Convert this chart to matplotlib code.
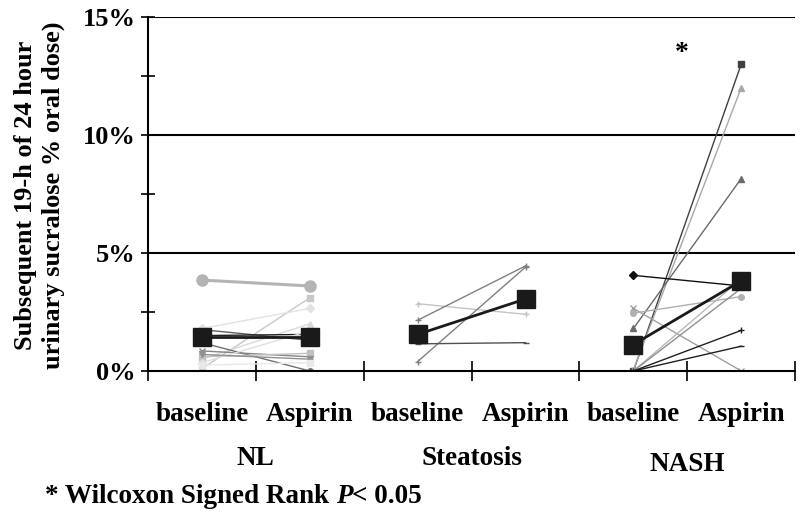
import matplotlib
matplotlib.use('Agg')
import matplotlib.pyplot as plt
from matplotlib.ticker import MultipleLocator, FuncFormatter

plt.rcParams['font.family'] = ['Liberation Serif', 'DejaVu Serif']
plt.rcParams['font.weight'] = 'bold'

# category labels and groups
cat_labels = ['baseline', 'Aspirin', 'baseline', 'Aspirin', 'baseline', 'Aspirin']
groups = ['NL', 'Steatosis', 'NASH']

# individual subjects: (baseline %, aspirin %) per group
nl_base = [3.85, 0.1, 1.8, 0.5, 1.75, 1.5, 1.2, 0.85, 0.6, 0.35, 0.7, 0.25]
nl_asp = [3.6, 3.1, 2.65, 2.0, 1.3, 1.55, 0.0, 0.6, 0.75, 1.7, 0.5, 0.35]
nl_col = ['#b4b4b4', '#c8c8c8', '#e2e2e2', '#dadada', '#606060', '#202020',
          '#707070', '#858585', '#c0c0c0', '#e0e0e0', '#909090', '#e8e8e8']
nl_mark = ['o', 's', 'D', '^', '_', '_', 'o', 'x', 's', 'D', 'v', 's']

st_base = [2.85, 2.15, 0.4, 1.15]
st_asp = [2.4, 4.45, 4.4, 1.2]
st_col = ['#c4c4c4', '#808080', '#808080', '#505050']
st_mark = ['+', '+', '+', '_']

na_base = [0.0, 0.05, 1.8, 4.05, 2.65, 2.45, 0.0, 0.0, 0.0, 0.0]
na_asp = [13.0, 12.0, 8.15, 3.6, 0.0, 3.15, 3.9, 3.5, 1.72, 1.05]
na_col = ['#404040', '#a8a8a8', '#6a6a6a', '#101010', '#a0a0a0', '#b0b0b0',
          '#b8b8b8', '#909090', '#202020', '#202020']
na_mark = ['s', '^', '^', 'D', 'x', 'o', '_', '_', '+', '_']

# group means
mean_base = [1.45, 1.55, 1.12]
mean_asp = [1.45, 3.05, 3.82]

fig = plt.figure(figsize=(8, 5.24), dpi=100)
ax = fig.add_axes([0.185, 0.292, 0.809, 0.676])

subjects = [(nl_base, nl_asp, nl_col, nl_mark),
            (st_base, st_asp, st_col, st_mark),
            (na_base, na_asp, na_col, na_mark)]
for g, (b, a, cols, marks) in enumerate(subjects):
    x0, x1 = 2 * g, 2 * g + 1
    for bv, av, c, m in zip(b, a, cols, marks):
        big = (g == 0 and m == 'o' and bv > 3)
        ax.plot([x0, x1], [bv, av], color=c, lw=2.2 if big else 1.0,
                marker=m, ms=8 if big else 4, mew=1.0, zorder=2)
    ax.plot([x0, x1], [mean_base[g], mean_asp[g]], color='#1a1a1a', lw=2,
            marker='s', ms=13, zorder=3)

ax.set_xlim(-0.5, 5.5)
ax.set_ylim(0, 15)
for y in [5, 10, 15]:
    ax.axhline(y, color='black', lw=1.5, zorder=1)

ax.spines['top'].set_visible(False)
ax.spines['right'].set_visible(False)
ax.spines['left'].set_linewidth(1.5)
ax.spines['bottom'].set_linewidth(1.5)

ax.yaxis.set_major_locator(MultipleLocator(5))
ax.yaxis.set_minor_locator(MultipleLocator(2.5))
ax.yaxis.set_major_formatter(FuncFormatter(lambda v, p: f'{int(v)}%'))
ax.tick_params(axis='y', which='both', direction='inout', length=10, width=1.2,
               labelsize=19, pad=4)
ax.set_xticks([i - 0.5 for i in range(7)])
ax.set_xticklabels([])
ax.tick_params(axis='x', direction='inout', length=14, width=1.2)

for i, lab in enumerate(cat_labels):
    ax.text(i, -1.86, lab, ha='center', va='center', fontsize=19.5,
            fontweight='bold', clip_on=False)
for g, lab in enumerate(groups):
    ax.text(2 * g + 0.5, -3.7 if g < 2 else -3.95, lab, ha='center', va='center',
            fontsize=19.5, fontweight='bold', clip_on=False)

ax.text(4.45, 13.45, '*', ha='center', va='center', fontsize=20, fontweight='bold')

fig.text(0.032, 0.628, 'Subsequent 19-h of 24 hour', rotation=90, ha='center',
         va='center', fontsize=19, fontweight='bold')
fig.text(0.067, 0.628, 'urinary sucralose % oral dose)', rotation=90, ha='center',
         va='center', fontsize=19, fontweight='bold')

# footnote with italic P
fy = 0.052
t = fig.text(0.056, fy, '* Wilcoxon Signed Rank ', fontsize=19.5,
             fontweight='bold', va='center')
fig.canvas.draw()
bb = t.get_window_extent()
t2 = fig.text(bb.x1 / fig.bbox.width, fy, 'P', fontsize=19.5, fontweight='bold',
              style='italic', va='center')
fig.canvas.draw()
bb2 = t2.get_window_extent()
fig.text(bb2.x1 / fig.bbox.width, fy, '< 0.05', fontsize=19.5,
         fontweight='bold', va='center')

fig.savefig('out.png', dpi=100)
